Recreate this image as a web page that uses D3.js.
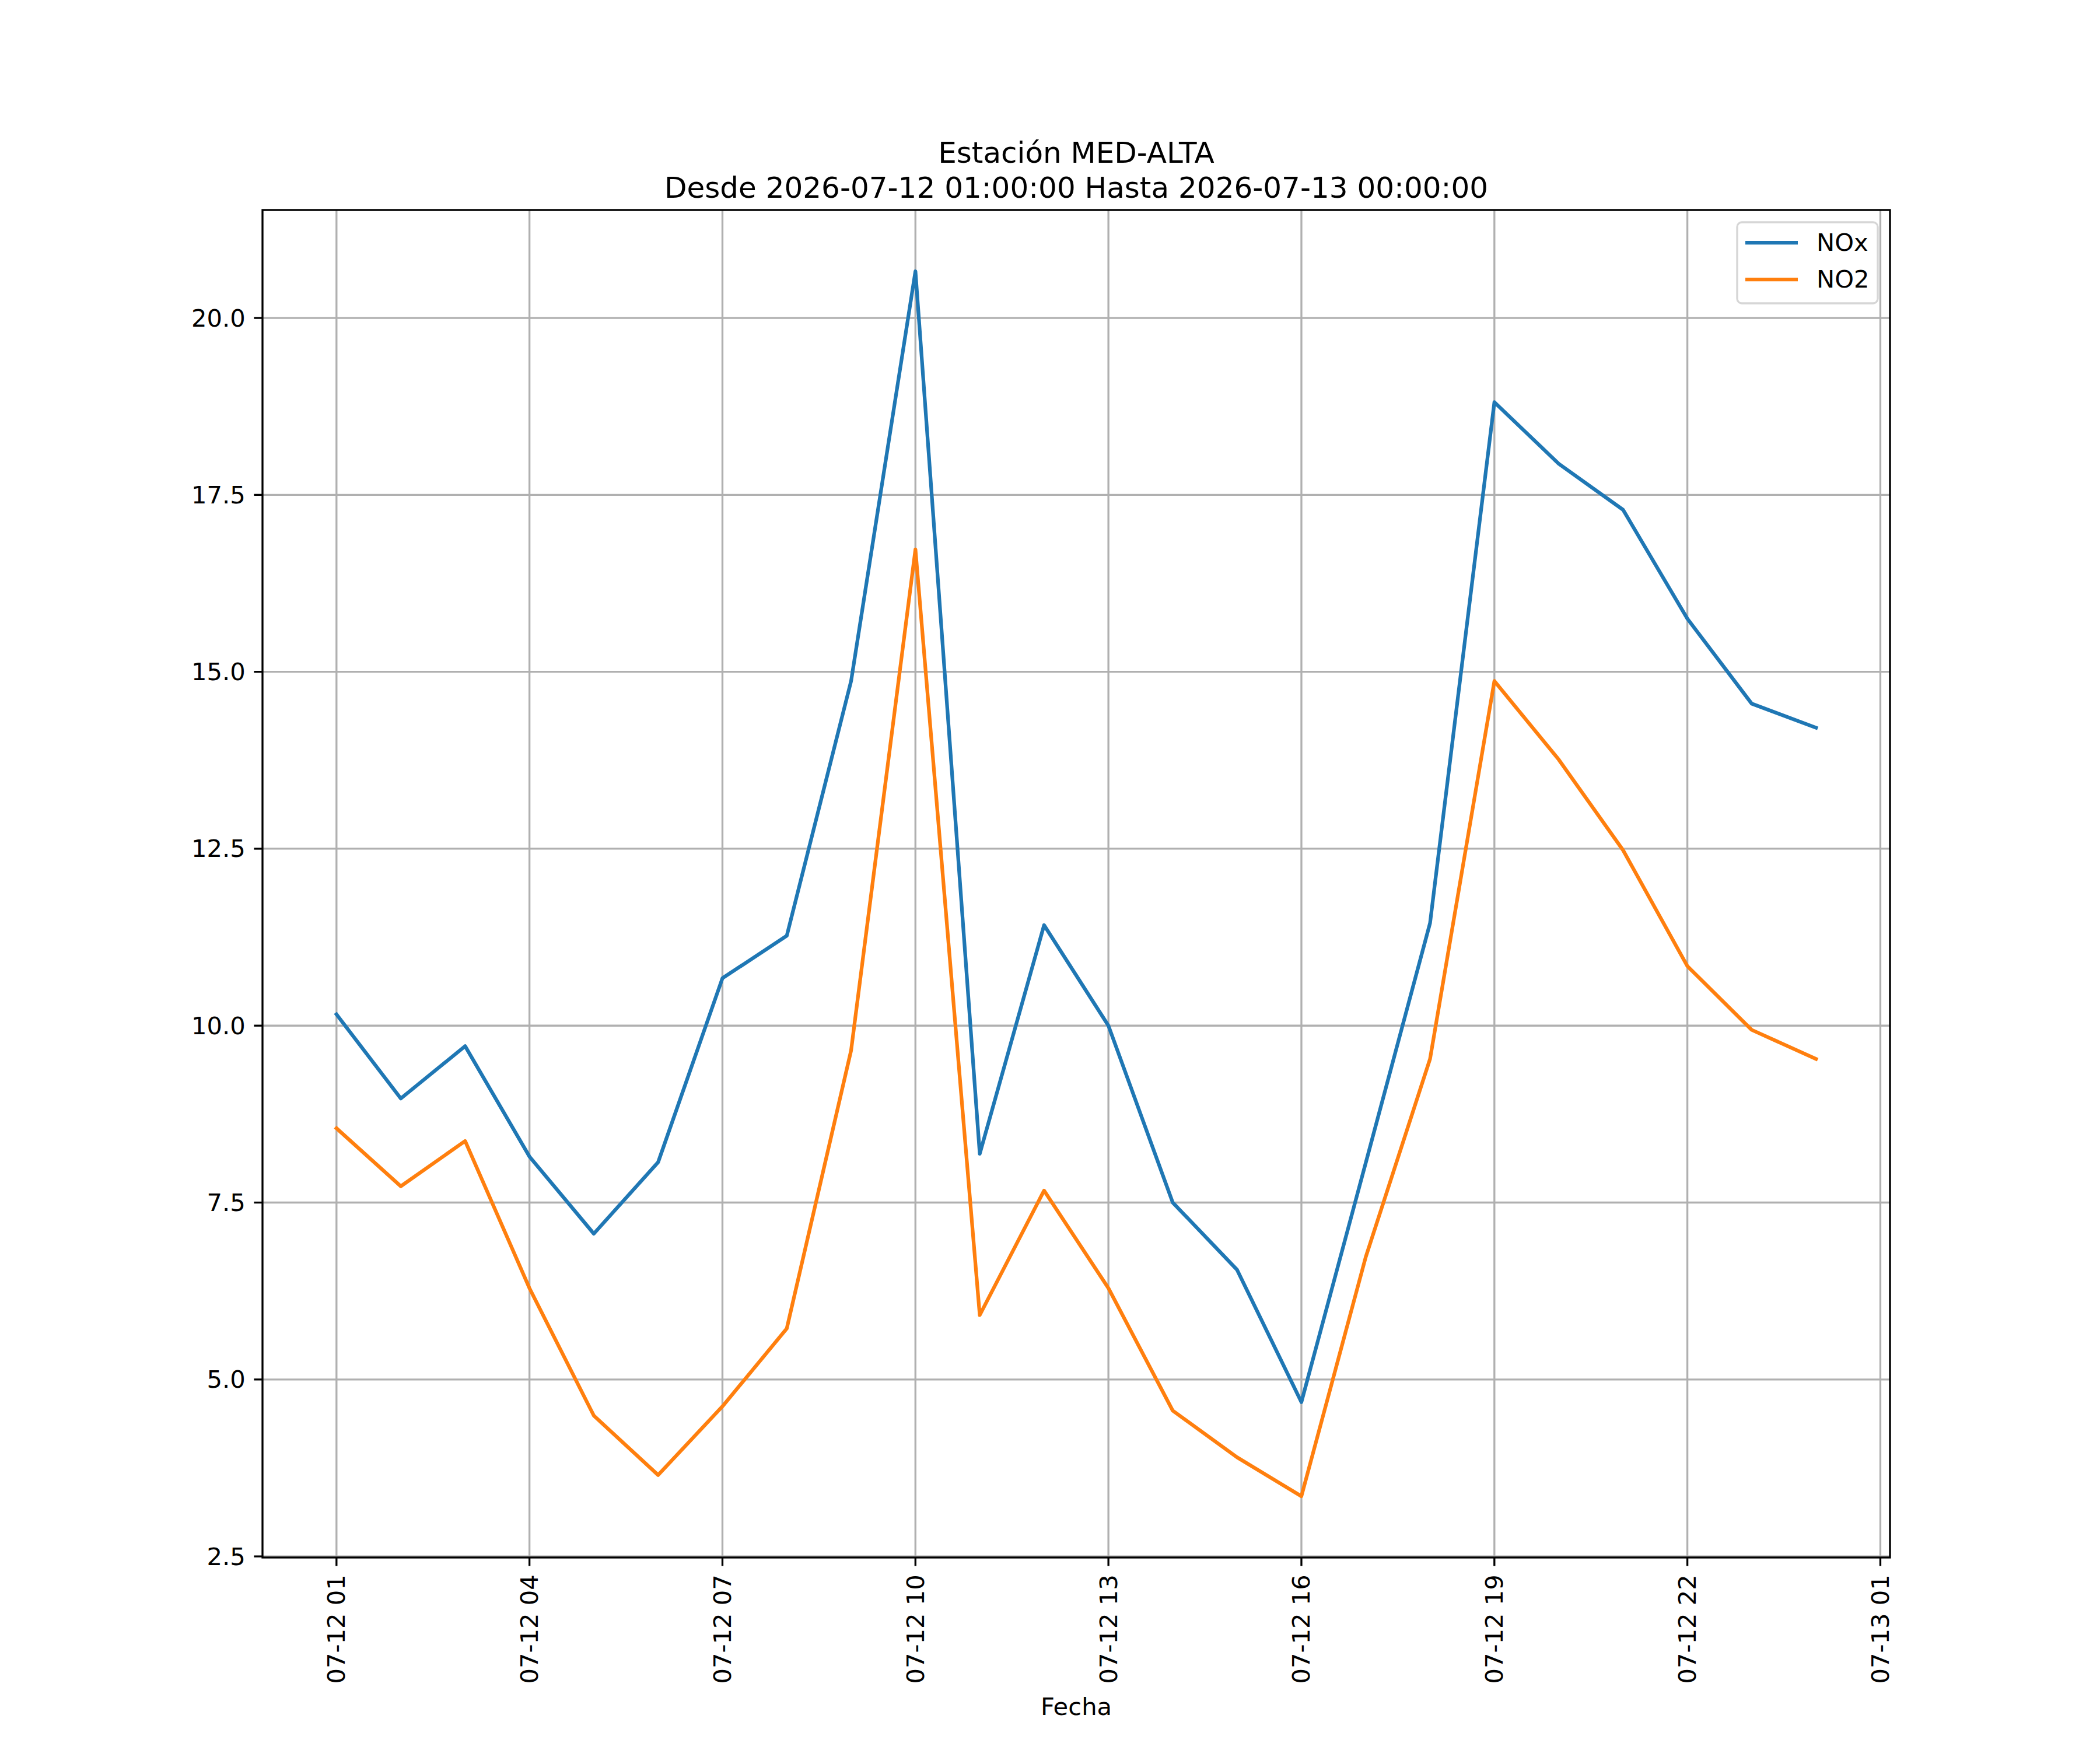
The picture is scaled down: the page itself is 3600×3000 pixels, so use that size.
<!DOCTYPE html>
<html>
<head>
<meta charset="utf-8">
<script src="https://cdn.jsdelivr.net/npm/d3@7"></script>
<style>
    body { margin: 0; background: #ffffff; }
    text { font-family: "DejaVu Sans", sans-serif; fill: #000000; }
    .grid line { stroke: #b0b0b0; stroke-width: 3.33; }
    .spine { fill: none; stroke: #000000; stroke-width: 3.33; }
    .tick-mark { stroke: #000000; stroke-width: 3.33; }
    .tickLabel { font-size: 41.67px; }
    .chartTitle { font-size: 50px; }
    .series { fill: none; stroke-width: 6.25; stroke-linejoin: round; stroke-linecap: square; }
</style>
</head>
<body>
<div id="chart"></div>
<script>
// hourly readings, station MED-ALTA
var fechas = ["2026-07-12 01:00", "2026-07-12 02:00", "2026-07-12 03:00", "2026-07-12 04:00",
              "2026-07-12 05:00", "2026-07-12 06:00", "2026-07-12 07:00", "2026-07-12 08:00",
              "2026-07-12 09:00", "2026-07-12 10:00", "2026-07-12 11:00", "2026-07-12 12:00",
              "2026-07-12 13:00", "2026-07-12 14:00", "2026-07-12 15:00", "2026-07-12 16:00",
              "2026-07-12 17:00", "2026-07-12 18:00", "2026-07-12 19:00", "2026-07-12 20:00",
              "2026-07-12 21:00", "2026-07-12 22:00", "2026-07-12 23:00", "2026-07-13 00:00"];
var noxValues = [10.16, 8.97, 9.71, 8.15, 7.06, 8.07, 10.67, 11.27, 14.87, 20.66, 8.19, 11.42,
                 10.0, 7.5, 6.55, 4.68, 8.06, 11.45, 18.81, 17.94, 17.29, 15.75, 14.55, 14.21];
var no2Values = [8.55, 7.73, 8.37, 6.29, 4.49, 3.65, 4.62, 5.72, 9.65, 16.73, 5.91, 7.67,
                 6.29, 4.56, 3.9, 3.35, 6.73, 9.53, 14.87, 13.76, 12.48, 10.84, 9.94, 9.53];
var seriesNames = ["NOx", "NO2"];
var seriesColors = ["#1f77b4", "#ff7f0e"];
var yTickValues = [2.5, 5.0, 7.5, 10.0, 12.5, 15.0, 17.5, 20.0];
var xTickLabels = ["2026-07-12 01:00", "2026-07-12 04:00", "2026-07-12 07:00", "2026-07-12 10:00",
                   "2026-07-12 13:00", "2026-07-12 16:00", "2026-07-12 19:00", "2026-07-12 22:00",
                   "2026-07-13 01:00"];
var titleLines = ["Estación MED-ALTA", "Desde 2026-07-12 01:00:00 Hasta 2026-07-13 00:00:00"];
var xLabel = "Fecha";

var width = 3600;
var height = 3000;
// same fractions as the matplotlib default subplot
var margin = {top: 360, right: 360, bottom: 330, left: 450};
var plotW = width - margin.left - margin.right;
var plotH = height - margin.top - margin.bottom;
var tickLen = 14.6;
var tickPad = 14.6;

var parseTime = d3.timeParse("%Y-%m-%d %H:%M");
var times = fechas.map(parseTime);

var svg = d3.select("#chart").append("svg")
    .attr("width", width)
    .attr("height", height);
svg.append("rect").attr("width", width).attr("height", height).attr("fill", "#ffffff");

var g = svg.append("g").attr("transform", "translate(" + margin.left + "," + margin.top + ")");

//5% padding on each side, like autoscale
var tExt = d3.extent(times);
var tPad = (tExt[1] - tExt[0]) * 0.05;
var xScale = d3.scaleTime()
    .domain([new Date(+tExt[0] - tPad), new Date(+tExt[1] + tPad)])
    .range([0, plotW]);

var allValues = noxValues.concat(no2Values);
var vExt = d3.extent(allValues);
var vPad = (vExt[1] - vExt[0]) * 0.05;
var yScale = d3.scaleLinear()
    .domain([vExt[0] - vPad, vExt[1] + vPad])
    .range([plotH, 0]);

var xTicks = xTickLabels.map(parseTime);
var fmtX = d3.timeFormat("%m-%d %H");
var fmtY = d3.format(".1f");

//grid lines first so series sit on top
var grid = g.append("g").classed("grid", true);
grid.selectAll("line.gx").data(xTicks).enter().append("line")
    .attr("x1", function (d) {return xScale(d);})
    .attr("x2", function (d) {return xScale(d);})
    .attr("y1", 0).attr("y2", plotH);
grid.selectAll("line.gy").data(yTickValues).enter().append("line")
    .attr("x1", 0).attr("x2", plotW)
    .attr("y1", function (d) {return yScale(d);})
    .attr("y2", function (d) {return yScale(d);});

var series = [noxValues, no2Values];
var line = d3.line()
    .x(function (d, i) {return xScale(times[i]);})
    .y(function (d) {return yScale(d);});

g.selectAll("path.series").data(series).enter().append("path")
    .classed("series", true)
    .attr("stroke", function (d, i) {return seriesColors[i];})
    .attr("d", line);

g.append("rect").classed("spine", true)
    .attr("x", 0).attr("y", 0)
    .attr("width", plotW).attr("height", plotH);

// y axis ticks + labels
g.selectAll("line.ytick").data(yTickValues).enter().append("line")
    .classed("tick-mark", true)
    .attr("x1", -tickLen).attr("x2", 0)
    .attr("y1", function (d) {return yScale(d);})
    .attr("y2", function (d) {return yScale(d);});
g.selectAll("text.ylab").data(yTickValues).enter().append("text")
    .classed("tickLabel", true)
    .attr("x", -tickLen - tickPad)
    .attr("y", function (d) {return yScale(d);})
    .attr("text-anchor", "end")
    .attr("dominant-baseline", "central")
    .text(function (d) {return fmtY(d);});

// x axis ticks + rotated labels
g.selectAll("line.xtick").data(xTicks).enter().append("line")
    .classed("tick-mark", true)
    .attr("x1", function (d) {return xScale(d);})
    .attr("x2", function (d) {return xScale(d);})
    .attr("y1", plotH).attr("y2", plotH + tickLen);
g.selectAll("text.xlab").data(xTicks).enter().append("text")
    .classed("tickLabel", true)
    .attr("transform", function (d) {
        return "translate(" + xScale(d) + "," + (plotH + tickLen + tickPad) + ") rotate(-90)";
    })
    .attr("text-anchor", "end")
    .attr("dominant-baseline", "central")
    .text(function (d) {return fmtX(d);});

g.append("text")
    .classed("tickLabel", true)
    .attr("x", plotW / 2)
    .attr("y", 2580)
    .attr("text-anchor", "middle")
    .text(xLabel);

// title, two lines
svg.selectAll("text.chartTitle").data(titleLines).enter().append("text")
    .classed("chartTitle", true)
    .attr("x", margin.left + plotW / 2)
    .attr("y", function (d, i) {return 279 + i * 60;})
    .attr("text-anchor", "middle")
    .text(function (d) {return d;});

// legend, upper right
var legend = g.append("g").attr("transform", "translate(" + (plotW - 262) + ",21)");
legend.append("rect")
    .attr("width", 241).attr("height", 139)
    .attr("rx", 8).attr("ry", 8)
    .attr("fill", "#ffffff").attr("fill-opacity", 0.8)
    .attr("stroke", "#d6d6d6").attr("stroke-width", 3.33);
var items = legend.selectAll("g.item").data(seriesNames).enter().append("g")
    .attr("transform", function (d, i) {return "translate(0," + (35 + i * 63) + ")";});
items.append("line")
    .attr("x1", 14).attr("x2", 104)
    .attr("stroke", function (d, i) {return seriesColors[i];})
    .attr("stroke-width", 6.25);
items.append("text")
    .classed("tickLabel", true)
    .attr("x", 136)
    .attr("y", 14)
    .text(function (d) {return d;});
</script>
</body>
</html>
